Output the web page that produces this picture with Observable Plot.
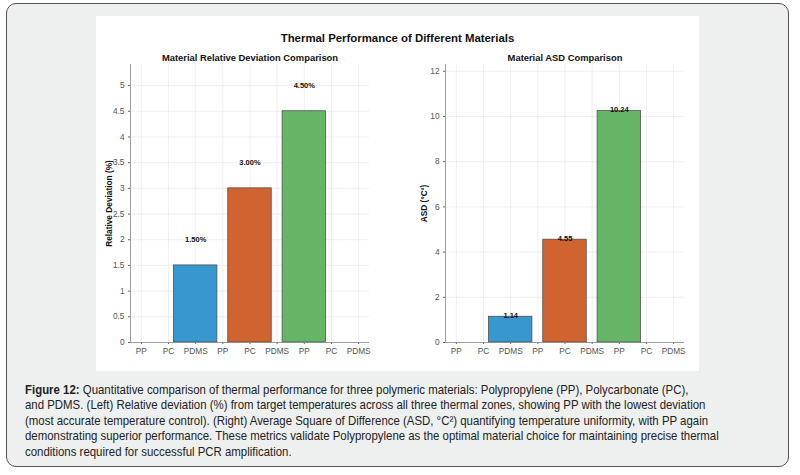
<!DOCTYPE html>
<html>
<head>
<meta charset="utf-8">
<script src="https://cdn.jsdelivr.net/npm/d3@7"></script>
<script src="https://cdn.jsdelivr.net/npm/@observablehq/plot@0.6"></script>
<style>
  html, body { margin: 0; padding: 0; background: #ffffff; }
  body { width: 800px; height: 475px; position: relative; overflow: hidden; font-family: "Liberation Sans", Arial, sans-serif; }
  #box { position: absolute; left: 6px; top: 3px; width: 781px; height: 462px; background: #eef0f0; border: 1.5px solid #555; border-radius: 10px; }
  #panel { position: absolute; left: 96px; top: 16px; width: 603px; height: 355px; background: #ffffff; }
  #title { position: absolute; left: 96px; top: 32px; width: 603px; text-align: center; font-weight: bold; font-size: 11.4px; color: #111; }
  .chart { position: absolute; top: 40px; }
  #caption { position: absolute; left: 25px; top: 383px; width: 860px; white-space: nowrap; transform: scaleX(0.907); transform-origin: 0 0; font-family: "Liberation Sans", Arial, sans-serif; font-size: 12.6px; line-height: 15.4px; color: #222; }
</style>
</head>
<body>
<div id="box"></div>
<div id="panel"></div>
<div id="title">Thermal Performance of Different Materials</div>
<div id="left" class="chart" style="left:96px"></div>
<div id="right" class="chart" style="left:400px"></div>
<div id="caption"><b>Figure 12:</b> Quantitative comparison of thermal performance for three polymeric materials: Polypropylene (PP), Polycarbonate (PC),<br>and PDMS. (Left) Relative deviation (%) from target temperatures across all three thermal zones, showing PP with the lowest deviation<br>(most accurate temperature control). (Right) Average Square of Difference (ASD, °C²) quantifying temperature uniformity, with PP again<br>demonstrating superior performance. These metrics validate Polypropylene as the optimal material choice for maintaining precise thermal<br>conditions required for successful PCR amplification.</div>
<script>
const materials = ["PP", "PC", "PDMS"];
const relDeviation = [1.50, 3.00, 4.50];
const asd = [1.14, 4.55, 10.24];
const tickLabels = ["PP", "PC", "PDMS", "PP", "PC", "PDMS", "PP", "PC", "PDMS"];
const colors = ["#3897cf", "#cf6430", "#66b466"];
const leftYTicks = [0, 0.5, 1, 1.5, 2, 2.5, 3, 3.5, 4, 4.5, 5];
const rightYTicks = [0, 2, 4, 6, 8, 10, 12];

const tickIdx = tickLabels.map((d, i) => i);
function rows(values) {
  return materials.map((m, i) => ({ material: m, value: values[i], slot: 2 * (i + 1), color: colors[i] }));
}

function chart({ values, yDomain, yTicks, yLabel, subtitle, labelFmt, labelDy, labelOffsetY, marginLeft, marginRight, yLabelOffset }) {
  const data = rows(values);
  const halfW = 0.8;
  return Plot.plot({
    width: 300,
    height: 320,
    marginTop: 24,
    marginBottom: 18,
    marginLeft,
    marginRight,
    style: { fontFamily: "Liberation Sans, Arial, sans-serif", fontSize: "8px", color: "#555", background: "transparent" },
    x: { domain: [-0.4, 8.4] },
    y: { domain: yDomain },
    marks: [
      Plot.gridX(tickIdx, { stroke: "#e4e4e4", strokeOpacity: 1, strokeWidth: 0.6 }),
      Plot.gridY(yTicks, { stroke: "#e4e4e4", strokeOpacity: 1, strokeWidth: 0.6 }),
      Plot.rectY(data, { x1: d => d.slot - halfW, x2: d => d.slot + halfW, y: "value", fill: "color", stroke: "#444", strokeWidth: 0.7 }),
      Plot.text(data, { x: "slot", y: d => d.value + labelDy, text: d => labelFmt(d.value), fontWeight: "bold", fontSize: 7.5, fill: "#111", dy: labelOffsetY }),
      Plot.axisX(tickIdx, { tickFormat: i => tickLabels[i], tickSize: 2, tickPadding: 4, fontSize: 8.3, stroke: "#666", label: null }),
      Plot.axisY(yTicks, { tickFormat: d => String(d), tickSize: 2, tickPadding: 4, fontSize: 8.3, stroke: "#666", label: yLabel, labelAnchor: "center", labelArrow: "none", labelOffset: yLabelOffset }),
      Plot.ruleX([-0.4], { stroke: "#888", strokeWidth: 0.8 }),
      Plot.ruleY([0], { stroke: "#888", strokeWidth: 0.8 }),
      Plot.text([subtitle], { frameAnchor: "top", dy: -10, fontWeight: "bold", fontSize: 9.4, fill: "#111" })
    ]
  });
}

const left = chart({
  values: relDeviation, yDomain: [0, 5.41], yTicks: leftYTicks,
  yLabel: "Relative Deviation (%)", subtitle: "Material Relative Deviation Comparison",
  labelFmt: v => v.toFixed(2) + "%", labelDy: 0.5, labelOffsetY: 0,
  marginLeft: 34, marginRight: 27, yLabelOffset: 24
});
const right = chart({
  values: asd, yDomain: [0, 12.3], yTicks: rightYTicks,
  yLabel: "ASD (°C²)", subtitle: "Material ASD Comparison",
  labelFmt: v => v.toFixed(2), labelDy: 0, labelOffsetY: -1,
  marginLeft: 45, marginRight: 16, yLabelOffset: 24
});
document.getElementById("left").append(left);
document.getElementById("right").append(right);
for (const svg of [left, right]) {
  svg.querySelectorAll("g[aria-label='y-axis label'] text").forEach(t => { t.setAttribute("font-weight", "bold"); t.setAttribute("fill", "#111"); });
}
</script>
</body>
</html>
